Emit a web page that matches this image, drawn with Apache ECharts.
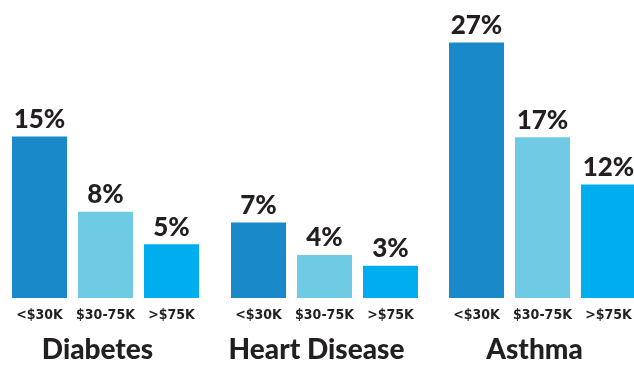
<!DOCTYPE html>
<html>
<head>
<meta charset="utf-8">
<script src="https://cdn.jsdelivr.net/npm/echarts@6/dist/echarts.min.js"></script>
<style>
html,body{margin:0;padding:0;background:#fff;}
#chart{width:634px;height:365px;}
</style>
</head>
<body>
<div id="chart"></div>
<script>
const incomeCategories = ['<$30K', '$30-75K', '>$75K'];
const groupNames = ['Diabetes', 'Heart Disease', 'Asthma'];
const diabetes = [15, 8, 5];
const heartDisease = [7, 4, 3];
const asthma = [27, 17, 12];
const yMax = [25, 25, 30];

const barColors = ['#1a89c9', '#6fcae4', '#00aeef'];
const textColor = '#231f20';
const seriesValues = [diabetes, heartDisease, asthma];
const gridLefts = [6.5, 225.5, 443.5];

const chart = echarts.init(document.getElementById('chart'));
const option = {
  animation: false,
  grid: gridLefts.map((l, i) => ({
    left: l, width: 198,
    top: 298 - (i === 2 ? 9.46 : 10.77) * yMax[i],
    bottom: 67,
    outerBoundsMode: 'none',
    containLabel: false
  })),
  xAxis: groupNames.map((name, i) => ({
    type: 'category',
    gridIndex: i,
    data: incomeCategories,
    axisLine: {show: false},
    axisTick: {show: false},
    axisLabel: {
      margin: 10,
      color: textColor,
      fontFamily: 'DejaVu Sans Condensed',
      fontWeight: 'bold',
      fontSize: 14,
      interval: 0,
      hideOverlap: false
    },
    name: name,
    nameLocation: 'middle',
    nameGap: 38,
    nameTextStyle: {
      color: textColor,
      fontFamily: 'Lato',
      fontWeight: 900,
      fontSize: 28,
      padding: [0, 16, 0, 0]
    }
  })),
  yAxis: groupNames.map((n, i) => ({
    type: 'value',
    gridIndex: i,
    min: 0,
    max: yMax[i],
    show: false
  })),
  series: seriesValues.map((vals, i) => ({
    type: 'bar',
    xAxisIndex: i,
    yAxisIndex: i,
    barWidth: 55,
    data: vals.map((v, j) => ({value: v, itemStyle: {color: barColors[j]}})),
    label: {
      show: true,
      position: 'top',
      distance: 4,
      formatter: '{c}%',
      color: textColor,
      fontFamily: 'Lato',
      fontWeight: 900,
      fontSize: 26
    }
  }))
};
chart.setOption(option);
</script>
</body>
</html>
